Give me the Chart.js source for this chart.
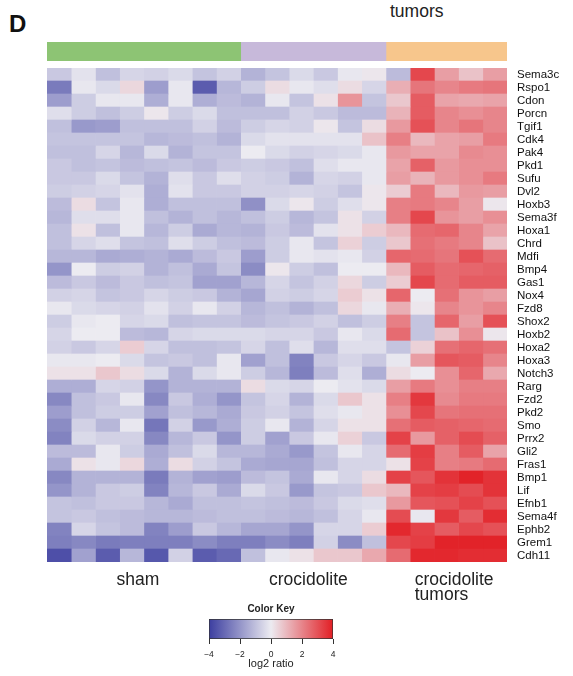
<!DOCTYPE html>
<html>
<head>
<meta charset="utf-8">
<script src="https://cdn.jsdelivr.net/npm/chart.js@4.4.1/dist/chart.umd.min.js"></script>
<style>
  body { margin: 0; background: #fff; width: 573px; height: 676px; position: relative; overflow: hidden;
         font-family: "Liberation Sans", Arial, sans-serif; }
  .abs { position: absolute; }
  #panel { left: 9px; top: 12px; font-size: 24px; font-weight: bold; line-height: 24px; color: #111; }
  #topNote { left: 390px; top: 3px; font-size: 17.5px; line-height: 17.5px; color: #222; }
</style>
</head>
<body>
<div id="panel" class="abs">D</div>
<div id="topNote" class="abs">tumors</div>
<div class="abs" style="left:0;top:42px;width:573px;height:19px"><canvas id="groupBar"></canvas></div>
<div class="abs" style="left:0;top:60px;width:573px;height:552px"><canvas id="heatmap"></canvas></div>
<div class="abs" style="left:190px;top:598px;width:160px;height:76px"><canvas id="colorKey"></canvas></div>

<script>
const genes = [
  "Sema3c", "Rspo1", "Cdon", "Porcn", "Tgif1", "Cdk4", "Pak4", "Pkd1", "Sufu", "Dvl2",
  "Hoxb3", "Sema3f", "Hoxa1", "Chrd", "Mdfi", "Bmp4", "Gas1", "Nox4", "Fzd8", "Shox2",
  "Hoxb2", "Hoxa2", "Hoxa3", "Notch3", "Rarg", "Fzd2", "Pkd2", "Smo", "Prrx2", "Gli2",
  "Fras1", "Bmp1", "Lif", "Efnb1", "Sema4f", "Ephb2", "Grem1", "Cdh11",
];

const groupLabels = ["sham", "crocidolite", ["crocidolite", "tumors"]];
const groupSizes = [8, 6, 5];

// log2 ratio per gene: 8 sham, 6 crocidolite, 5 crocidolite tumors
const ratios = [
  [-0.8, -0.2, -1.0, -0.5, -0.6, -0.4, -0.9, -0.6, -1.3, -0.9, -0.4, -0.8, -0.1, 0.1, -1.1, 3.2, 1.5, 0.8, 1.5],
  [-2.6, -0.1, -0.4, 0.4, -1.8, -0.1, -3.3, -1.2, -0.7, 0.3, -0.1, -0.3, 0.3, -0.5, 1.2, 2.3, 2.0, 2.2, 2.3],
  [-1.8, -0.7, -0.1, -0.1, -1.4, -0.1, -1.4, -1.1, -1.3, -0.1, -0.9, 0.2, 1.7, -0.9, 0.7, 2.8, 1.4, 1.3, 1.4],
  [-0.3, -0.7, -1.0, -0.7, 0.1, -0.7, -0.4, -1.0, -1.0, -1.0, -0.6, -0.8, -1.1, -1.1, 1.1, 2.8, 2.0, 1.8, 2.0],
  [-1.0, -1.9, -1.8, -1.0, -1.0, -1.0, -0.6, -1.1, -0.7, -0.5, -0.6, 0.1, -0.9, 0.3, 1.6, 3.0, 2.0, 2.3, 2.0],
  [-0.9, -0.9, -0.9, -0.9, -1.2, -1.1, -1.0, -1.3, -0.4, -0.2, -0.2, -0.2, -0.2, 0.8, 2.1, 1.0, 1.4, 1.5, 2.2],
  [-1.0, -1.0, -0.5, -1.2, -0.4, -1.3, -0.9, -0.9, 0.0, -0.4, -0.6, -0.5, -0.4, -0.1, 1.6, 1.4, 1.4, 1.9, 1.8],
  [-0.8, -1.0, -0.9, -1.1, -1.0, -0.9, -1.1, -0.8, -0.7, -0.8, -1.0, -0.3, -0.1, -0.1, 1.4, 2.7, 1.6, 1.8, 1.8],
  [-0.8, -0.8, -0.4, -0.9, -1.3, -0.3, -0.8, -0.3, -0.6, -0.7, -1.3, -0.5, -0.6, -0.1, 1.5, 1.1, 1.6, 1.8, 2.2],
  [-0.7, -0.6, -0.5, -0.2, -1.4, -0.2, -0.8, -0.8, -0.6, -0.6, -0.5, -0.6, -0.9, 0.1, 0.6, 2.2, 1.0, 1.6, 1.5],
  [-1.1, 0.3, -0.9, -0.1, -1.4, -1.0, -1.0, -1.0, -2.1, -0.4, 0.1, -0.7, -0.3, 0.1, 2.1, 2.2, 2.0, 1.5, 0.1],
  [-1.2, -0.3, -0.3, -0.1, -1.0, -1.3, -1.0, -1.2, -1.0, -0.7, -1.2, -0.9, 0.2, -0.6, 2.1, 3.2, 1.7, 1.5, 1.8],
  [-1.0, 0.2, -1.0, -0.1, -1.2, -0.7, -1.5, -1.2, -1.3, -0.8, -1.1, -0.2, 0.2, 0.6, 1.0, 2.5, 2.6, 2.0, 1.4],
  [-1.0, -0.5, -0.3, -0.9, -1.0, -0.3, -0.7, -1.0, -1.1, -0.7, -0.1, -0.9, 0.5, -0.7, 0.7, 2.4, 2.2, 2.0, 0.8],
  [-1.2, -1.2, -1.5, -1.4, -1.3, -1.5, -1.1, -0.8, -1.8, -0.7, -0.1, -0.2, -0.1, -0.6, 2.6, 2.5, 2.3, 3.0, 2.5],
  [-2.0, 0.0, -0.7, -0.6, -1.3, -1.0, -1.5, -0.9, -2.2, 0.1, -0.7, -1.0, 0.0, 0.0, 1.0, 2.8, 2.5, 2.6, 2.7],
  [-1.1, -0.8, -1.1, -0.8, -1.0, -0.9, -1.7, -1.7, -1.2, -0.5, -0.9, -0.6, 0.4, -0.7, 0.6, 3.2, 2.5, 2.8, 2.8],
  [-0.6, -0.5, -0.9, -0.8, -0.5, -0.7, -0.8, -1.3, -1.6, -0.6, -0.7, -0.5, 0.6, 0.2, 2.6, 0.0, 2.4, 1.7, 1.5],
  [-0.1, -0.4, -0.5, -0.6, -0.2, -0.6, -0.1, -0.6, -1.2, -1.0, -1.3, -1.0, 0.4, -0.1, 1.2, 0.1, 2.0, 1.7, 2.0],
  [-0.7, -0.1, 0.0, -0.5, -0.4, -1.0, -0.9, -0.9, -1.1, -0.9, -0.8, -0.6, -1.0, -0.7, 2.1, -0.9, 2.6, 1.5, 3.0],
  [-0.5, 0.0, 0.0, -1.1, -1.2, -0.5, -0.4, -0.4, -0.4, -0.5, -0.5, -0.8, -0.1, -0.4, 2.5, -0.9, 0.8, 1.8, 0.1],
  [-0.6, -0.8, -0.5, 0.6, -0.5, -1.0, -1.0, -0.9, -0.5, -1.0, -0.3, -1.2, -0.3, -0.3, -0.9, 0.5, 2.4, 2.6, 2.4],
  [-0.1, -0.1, 0.0, -0.4, -0.9, -0.8, -1.0, -0.1, -1.7, -1.0, -2.4, -0.8, -0.5, -0.8, -0.1, 1.5, 2.9, 2.8, 2.0],
  [0.2, 0.2, 0.7, 0.3, -0.4, -1.3, -0.4, -0.1, -0.7, -1.2, -2.5, -1.1, -0.3, -1.4, 0.3, 0.0, 1.8, 2.6, 1.3],
  [-1.4, -1.4, -0.5, -0.6, -2.0, -1.3, -1.3, -1.3, 0.3, -0.4, -0.5, 0.0, -0.2, -0.4, 1.5, 2.2, 1.8, 2.1, 2.1],
  [-2.3, -1.0, -0.8, -0.1, -2.3, -0.8, -1.4, -2.0, -0.9, -0.5, -1.3, -0.4, 0.7, 0.2, 2.1, 3.5, 1.9, 2.2, 2.2],
  [-1.8, -1.0, -0.7, -0.7, -1.7, -1.0, -1.2, -1.5, -0.8, -0.6, -0.9, -0.3, -0.1, 0.2, 1.8, 3.2, 2.3, 2.4, 2.4],
  [-2.2, -0.6, -1.2, -0.1, -2.7, -0.6, -1.9, -1.4, -0.7, -0.1, -1.3, -0.5, 0.2, 0.2, 2.4, 2.8, 2.7, 2.6, 2.5],
  [-2.4, -0.4, -0.6, -0.6, -2.3, -1.2, -0.8, -2.0, -0.7, -1.7, -0.8, -0.1, 0.5, -0.8, 3.3, 1.6, 2.7, 3.1, 2.7],
  [-1.1, -1.1, -0.1, -0.7, -1.5, -1.0, -0.4, -1.2, -1.2, -1.5, -1.9, -0.9, -0.1, -0.5, 2.5, 3.4, 2.1, 2.8, 1.4],
  [-1.5, 0.2, -0.1, 0.4, -1.4, 0.3, -0.6, -0.9, -1.5, -1.6, -1.6, -1.0, -0.5, -0.5, 0.2, 3.3, 2.1, 2.2, 2.5],
  [-2.3, -1.3, -1.3, -1.3, -2.6, -1.3, -1.7, -1.8, -1.1, -0.9, -1.5, -0.1, -0.5, 0.3, 3.3, 2.9, 3.6, 3.9, 3.6],
  [-2.0, -1.3, -0.8, -0.7, -2.4, -1.2, -0.8, -1.5, -0.4, -0.8, -1.9, -0.9, -0.8, 0.7, 1.0, 3.3, 3.4, 3.1, 3.6],
  [-0.9, -1.0, -0.8, -0.8, -1.2, -1.5, -1.0, -1.0, -0.9, -1.0, -1.1, -0.8, -0.4, -0.3, 1.6, 2.9, 3.0, 3.3, 3.0],
  [-0.9, -0.8, -1.0, -1.1, -1.2, -1.2, -1.1, -1.0, -1.0, -1.1, -1.2, -1.0, -0.5, -0.1, 3.1, -0.1, 3.5, 2.8, 3.7],
  [-2.4, -0.5, -0.9, -1.1, -2.4, -1.8, -0.8, -1.2, -1.6, -1.6, -2.0, -0.5, -0.5, 0.6, 3.8, 3.3, 2.8, 3.2, 3.0],
  [-2.5, -2.3, -2.6, -2.5, -2.5, -2.5, -2.2, -2.5, -2.5, -2.2, -2.5, -0.6, -2.2, -1.0, 3.2, 3.4, 3.9, 3.9, 3.9],
  [-3.6, -1.7, -3.3, -1.2, -3.4, -0.6, -3.3, -3.0, -1.0, -0.1, 0.2, 0.7, 0.7, 1.3, 2.5, 3.8, 3.8, 3.7, 3.7],
];

const keyMin = -4;
const keyMax = 4;

// styling
const fontFamily = "'Liberation Sans', Arial, Helvetica, sans-serif";
const groupColors = ["#8dc474", "#c7b9da", "#f7c68c"];
const groupLabelAt = [2.87, 9.17, 15.19]; // left edge of each group caption, in column units
const lowRgb = [60, 62, 160];
const midRgb = [236, 235, 241];
const highRgb = [226, 30, 36];

function ratioColor(v) {
  const t = Math.max(-1, Math.min(1, v / keyMax));
  const end = t < 0 ? lowRgb : highRgb;
  const k = Math.abs(t);
  const c = midRgb.map((x, i) => Math.round(x + (end[i] - x) * k));
  return "rgb(" + c.join(",") + ")";
}

// keep axis label overhang from shrinking the plot area
function noOverhang(axis) {
  axis.paddingTop = 0;
  axis.paddingBottom = 0;
  axis.paddingLeft = 0;
  axis.paddingRight = 0;
}

const columnCount = ratios[0].length;

// group annotation bar
let start = 0;
const groupDatasets = groupSizes.map((n, i) => {
  const ds = {
    data: [[start, start + n]],
    backgroundColor: groupColors[i],
    borderWidth: 0,
    grouped: false,
    categoryPercentage: 1,
    barPercentage: 1,
  };
  start += n;
  return ds;
});

new Chart(document.getElementById("groupBar"), {
  type: "bar",
  data: { labels: ["group"], datasets: groupDatasets },
  options: {
    indexAxis: "y",
    responsive: true,
    maintainAspectRatio: false,
    animation: false,
    events: [],
    layout: { padding: { left: 47, right: 66, top: 0, bottom: 0 } },
    plugins: { legend: { display: false }, tooltip: { enabled: false } },
    scales: {
      x: { type: "linear", min: 0, max: columnCount, display: false },
      y: { display: false },
    },
  },
});

// heatmap: one floating-bar dataset per sample column
const heatDatasets = [];
for (let c = 0; c < columnCount; c++) {
  heatDatasets.push({
    data: genes.map(() => [c, c + 1]),
    backgroundColor: ratios.map((row) => ratioColor(row[c])),
    borderWidth: 0,
    grouped: false,
    categoryPercentage: 1,
    barPercentage: 1,
  });
}

new Chart(document.getElementById("heatmap"), {
  type: "bar",
  data: { labels: genes, datasets: heatDatasets },
  options: {
    indexAxis: "y",
    responsive: true,
    maintainAspectRatio: false,
    animation: false,
    events: [],
    layout: { padding: { left: 47, right: 0, top: 8, bottom: 0 } },
    plugins: { legend: { display: false }, tooltip: { enabled: false } },
    scales: {
      x: {
        type: "linear",
        min: 0,
        max: columnCount,
        grid: { display: false, drawTicks: false },
        border: { display: false },
        afterBuildTicks: (axis) => {
          axis.ticks = groupLabelAt.map((v) => ({ value: v }));
        },
        afterFit: (axis) => {
          axis.height = 50;
          noOverhang(axis);
        },
        ticks: {
          align: "start",
          autoSkip: false,
          maxRotation: 0,
          padding: 11,
          color: "#222",
          font: { family: fontFamily, size: 17.5, lineHeight: 0.86 },
          callback: (value, index) => groupLabels[index],
        },
      },
      y: {
        position: "right",
        grid: { display: false, drawTicks: false },
        border: { display: false },
        afterFit: (axis) => {
          axis.width = 66;
          noOverhang(axis);
        },
        ticks: {
          autoSkip: false,
          padding: 10,
          color: "#111",
          font: { family: fontFamily, size: 11.5 },
        },
      },
    },
  },
});

// color key
new Chart(document.getElementById("colorKey"), {
  type: "bar",
  data: {
    labels: ["key"],
    datasets: [{
      data: [[keyMin, keyMax]],
      backgroundColor: (context) => {
        const { ctx, chartArea, scales } = context.chart;
        if (!chartArea) return ratioColor(0);
        const g = ctx.createLinearGradient(scales.x.getPixelForValue(keyMin), 0, scales.x.getPixelForValue(keyMax), 0);
        g.addColorStop(0, ratioColor(keyMin));
        g.addColorStop(0.5, ratioColor(0));
        g.addColorStop(1, ratioColor(keyMax));
        return g;
      },
      borderColor: "#333",
      borderWidth: 1,
      borderSkipped: false,
      categoryPercentage: 1,
      barPercentage: 1,
    }],
  },
  options: {
    indexAxis: "y",
    responsive: true,
    maintainAspectRatio: false,
    animation: false,
    events: [],
    layout: { padding: { left: 19, right: 17, top: 0, bottom: 0 } },
    plugins: {
      legend: { display: false },
      tooltip: { enabled: false },
      title: {
        display: true,
        text: "Color Key",
        color: "#222",
        font: { family: fontFamily, size: 10, weight: "bold" },
        padding: { top: 5, bottom: 4 },
      },
    },
    scales: {
      x: {
        type: "linear",
        min: keyMin,
        max: keyMax,
        grid: { drawOnChartArea: false, drawTicks: true, tickLength: 5, color: "#333" },
        border: { display: false },
        afterFit: (axis) => {
          axis.height = 35;
          noOverhang(axis);
        },
        ticks: {
          stepSize: 2,
          padding: 6,
          color: "#222",
          font: { family: fontFamily, size: 8.5 },
          callback: (v) => (v < 0 ? "\u2212" + Math.abs(v) : String(v)),
        },
        title: {
          display: true,
          text: "log2 ratio",
          color: "#222",
          font: { family: fontFamily, size: 11 },
          padding: { top: 0, bottom: 3 },
        },
      },
      y: { display: false },
    },
  },
});
</script>
</body>
</html>
